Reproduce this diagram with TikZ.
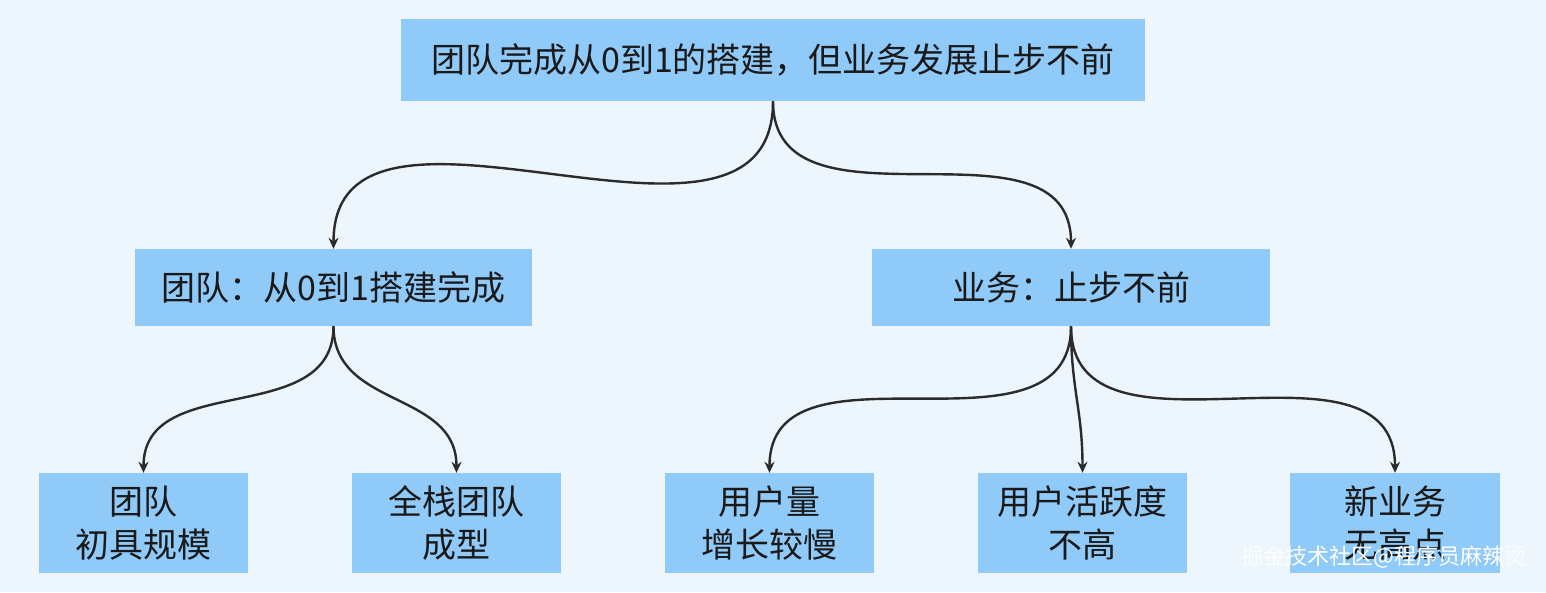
\documentclass[tikz,border=0pt]{standalone}
\usepackage{fontspec}
\setmainfont{Noto Sans CJK SC}
\usetikzlibrary{arrows.meta}
\definecolor{bg}{HTML}{EEF6FD}
\definecolor{boxc}{HTML}{90CAF9}
\definecolor{linec}{HTML}{2B2B2B}
\begin{document}
\begin{tikzpicture}[x=1pt,y=-1pt,
  bx/.style={fill=boxc,draw=none,inner sep=0pt,align=center,font=\fontsize{34}{43}\selectfont,text=black!90},
  conn/.style={draw=linec,line width=2.4pt,-{Stealth[length=11pt,width=10pt]},out=-90,in=90,looseness=1.1}]
\fill[bg] (0,0) rectangle (1546,592);
\useasboundingbox (0,0) rectangle (1546,592);
\node[bx,minimum width=744pt,minimum height=82pt] (top) at (773,60) {团队完成从0到1的搭建，但业务发展止步不前};
\node[bx,minimum width=397pt,minimum height=77pt] (l) at (333.5,287.5) {团队：从0到1搭建完成};
\node[bx,minimum width=398pt,minimum height=77pt] (r) at (1071,287.5) {业务：止步不前};
\node[bx,minimum width=209pt,minimum height=100pt] (b1) at (143.5,523) {团队\\初具规模};
\node[bx,minimum width=209pt,minimum height=100pt] (b2) at (456.5,523) {全栈团队\\成型};
\node[bx,minimum width=209pt,minimum height=100pt] (b3) at (769.5,523) {用户量\\增长较慢};
\node[bx,minimum width=209pt,minimum height=100pt] (b4) at (1082.5,523) {用户活跃度\\不高};
\node[bx,minimum width=210pt,minimum height=100pt] (b5) at (1395,523) {新业务\\无高点};
\draw[conn] (top.south) to (l.north);
\draw[conn] (top.south) to (r.north);
\draw[conn] (l.south) to (b1.north);
\draw[conn] (l.south) to (b2.north);
\draw[conn] (r.south) to (b3.north);
\draw[conn] (r.south) to (b4.north);
\draw[conn] (r.south) to (b5.north);
\node[text=white,font=\fontsize{22}{26}\selectfont,anchor=east] (wm) at (1530,557) {掘金技术社区@程序员麻辣烫};
\end{tikzpicture}
\end{document}
